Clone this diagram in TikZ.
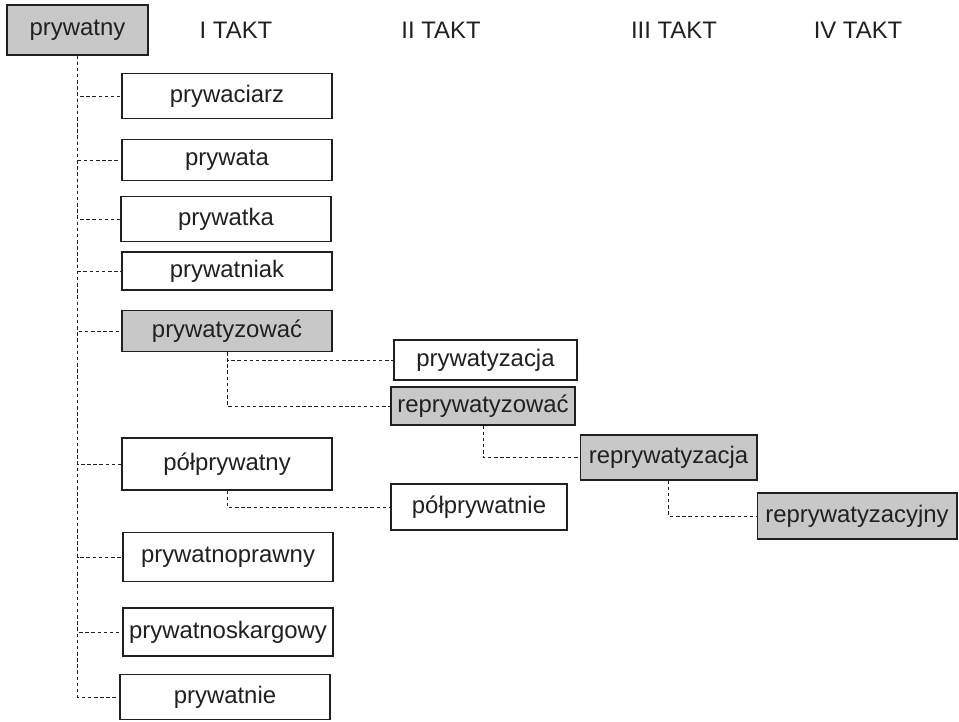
\documentclass[tikz,border=0pt]{standalone}
\usepackage{fontspec}
\setmainfont{Liberation Sans}
\usepackage{xcolor}
\definecolor{boxgray}{RGB}{200,200,200}
\definecolor{ink}{RGB}{35,31,32}
\tikzset{
  word/.style={draw=ink,line width=0.6pt,fill=white,text=ink,inner sep=1pt,
    minimum width=4.2cm,minimum height=0.9cm,font=\fontsize{13.6}{16}\selectfont},
  base/.style={word,fill=boxgray},
  takt/.style={text=ink,font=\fontsize{13.6}{16}\selectfont},
  link/.style={draw=ink,line width=0.5pt,dash pattern=on 2pt off 1.5pt}
}

\begin{document}
\begin{tikzpicture}[x=0.02cm,y=-0.02cm]
    \useasboundingbox (0,0) rectangle (959,721);
    % naglowki
    \node[takt] (t1) at (236,30) {I TAKT};
    \node[takt] (t2) at (441,30) {II TAKT};
    \node[takt] (t3) at (674,30) {III TAKT};
    \node[takt] (t4) at (858,30) {IV TAKT};
    % wyraz podstawowy
    \node[base,minimum width=2.82cm,minimum height=1cm] (root) at (77.5,30) {prywatny};
    % I takt
    \node[word] (c1) at (227,96) {prywaciarz};
    \node[word,minimum height=0.82cm] (c2) at (227,160) {prywata};
    \node[word] (c3) at (226,219) {prywatka};
    \node[word,minimum height=0.76cm] (c4) at (227,271) {prywatniak};
    \node[base,minimum height=0.82cm] (c5) at (227,331) {prywatyzować};
    \node[word,minimum height=1.04cm] (c6) at (227,464) {półprywatny};
    \node[word,minimum height=0.98cm] (c7) at (228,557) {prywatnoprawny};
    \node[word,minimum height=0.96cm] (c8) at (228,632) {prywatnoskargowy};
    \node[word] (c9) at (225,697) {prywatnie};
    % II takt
    \node[word,minimum width=3.66cm,minimum height=0.8cm] (d1) at (485.5,360) {prywatyzacja};
    \node[base,minimum width=3.68cm,minimum height=0.76cm] (d2) at (483,406) {reprywatyzować};
    \node[word,minimum width=3.52cm,minimum height=0.92cm] (d3) at (479,507) {półprywatnie};
    % III i IV takt
    \node[base,minimum width=3.54cm] (e1) at (668.5,457.5) {reprywatyzacja};
    \node[base,minimum width=4cm,minimum height=0.92cm] (f1) at (857,516) {reprywatyzacyjny};
    % polaczenia
    \foreach \c in {c1,c2,c3,c4,c5,c6,c7,c8,c9}
      \draw[link] (root.south) |- (\c.west);
    \draw[link] (c5.south) |- (d1.west);
    \draw[link] (c5.south) |- (d2.west);
    \draw[link] (c6.south) |- (d3.west);
    \draw[link] (d2.south) |- (e1.west);
    \draw[link] (e1.south) |- (f1.west);
\end{tikzpicture}
\end{document}
